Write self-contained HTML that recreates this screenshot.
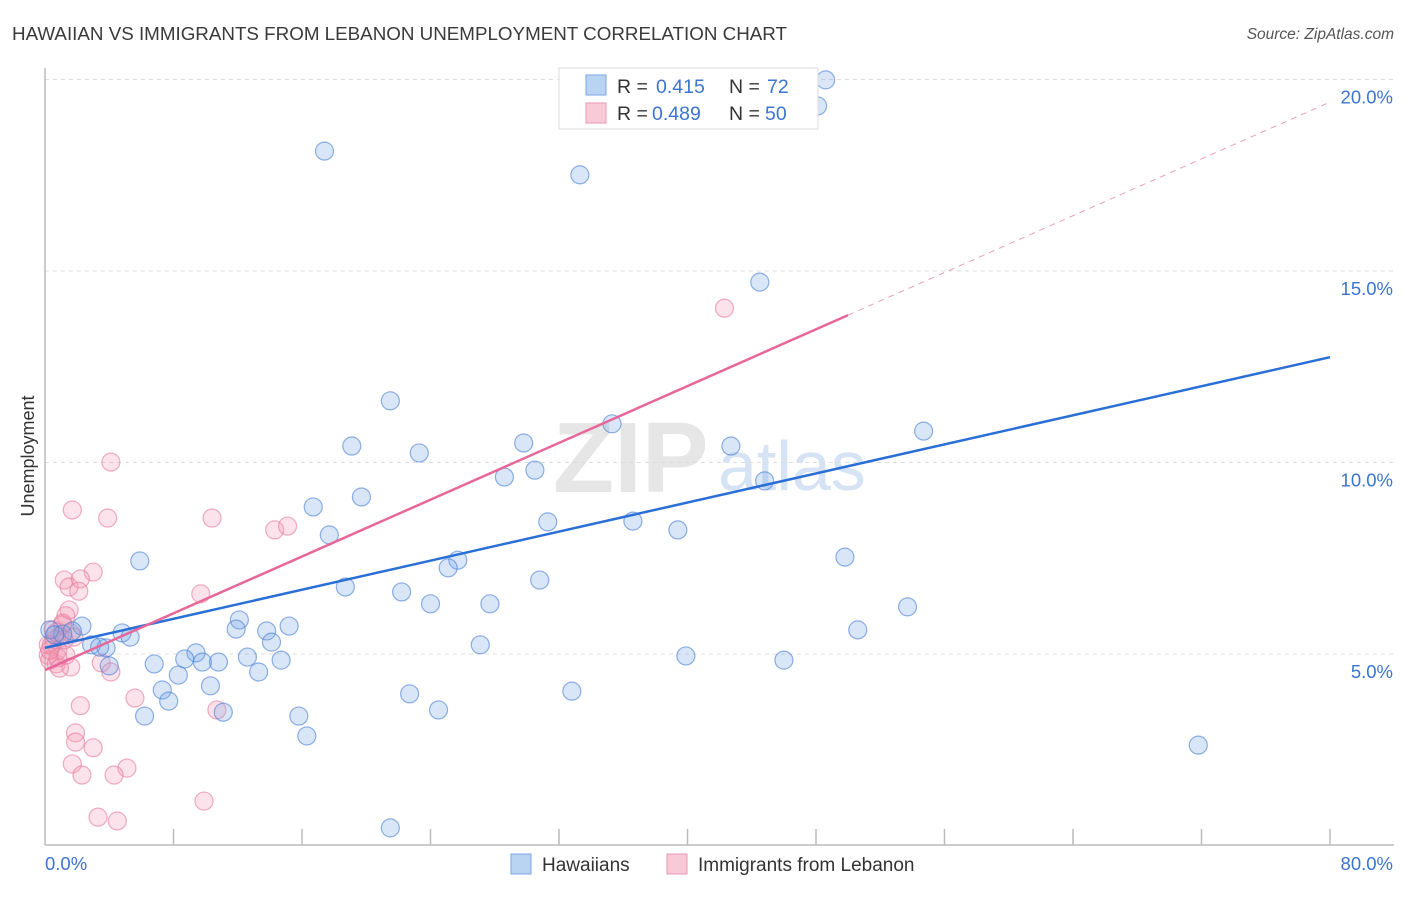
<!DOCTYPE html>
<html><head><meta charset="utf-8"><style>
body{margin:0;background:#fff;font-family:"Liberation Sans",sans-serif}
svg text{font-family:"Liberation Sans",sans-serif}
</style></head><body>
<svg id="chart" width="1406" height="892" xmlns="http://www.w3.org/2000/svg">
<text x="12" y="40" font-size="18.8" fill="#3a3a3a">HAWAIIAN VS IMMIGRANTS FROM LEBANON UNEMPLOYMENT CORRELATION CHART</text>
<text x="1394" y="39" font-size="15.5" fill="#555" font-style="italic" text-anchor="end">Source: ZipAtlas.com</text>
<g>
<text x="553" y="492" font-size="100" fill="#e6e6e6" font-family="Liberation Serif,serif" font-weight="bold">ZIP</text>
<text x="718" y="490" font-size="70" fill="#d5e3f5">atlas</text>
</g>
<g id="grid"></g>
<g id="axes"></g>
<g id="marks"></g>
<g>
<rect x="559" y="68" width="259" height="61" fill="#fff" stroke="#ddd"/>
<rect x="586" y="75" width="20" height="20" fill="#b9d3f3" stroke="#7aa5e0"/>
<text x="617" y="93" font-size="19.5" fill="#333">R = </text><text x="656" y="93" font-size="19.5" fill="#3b74d1">0.415</text>
<text x="729" y="93" font-size="19.5" fill="#333">N = </text><text x="767" y="93" font-size="19.5" fill="#3b74d1">72</text>
<rect x="586" y="103" width="20" height="20" fill="#f8c9d7" stroke="#ea9ab3"/>
<text x="617" y="120" font-size="19.5" fill="#333">R = </text><text x="652" y="120" font-size="19.5" fill="#3b74d1">0.489</text>
<text x="729" y="120" font-size="19.5" fill="#333">N = </text><text x="765" y="120" font-size="19.5" fill="#3b74d1">50</text>
</g>
<g>
<rect x="511" y="854" width="20" height="20" fill="#b9d3f3" stroke="#7aa5e0"/>
<text x="542" y="871" font-size="19" fill="#333">Hawaiians</text>
<rect x="667" y="854" width="20" height="20" fill="#f8c9d7" stroke="#ea9ab3"/>
<text x="698" y="871" font-size="19" fill="#333">Immigrants from Lebanon</text>
</g>
</svg>
<script>
const blueX=[48.6,48.1,17.4,33.3,44.5,21.5,35.3,19.1,42.7,23.3,29.8,54.7,28.6,30.5,44.8,19.7,16.7,31.3,36.6,39.4,17.7,5.9,49.8,25.7,25.1,30.8,18.7,22.2,24.0,27.7,53.7,12.1,11.9,15.2,13.8,14.1,27.1,50.6,2.3,4.8,5.3,1.7,1.1,0.3,2.9,3.8,4.0,9.4,8.7,6.8,9.8,10.8,12.6,14.7,8.3,13.3,39.9,46.0,7.3,7.7,10.3,6.2,11.1,15.8,16.3,22.7,24.5,32.8,71.8,21.5,0.6,3.4];
const blueY=[19.99,19.31,18.13,17.51,14.71,11.61,11.01,10.43,10.43,10.25,10.51,10.82,9.62,9.80,9.52,9.10,8.84,8.45,8.47,8.24,8.11,7.43,7.53,7.45,7.25,6.93,6.75,6.62,6.31,6.31,6.23,5.89,5.65,5.73,5.60,5.31,5.24,5.63,5.73,5.55,5.44,5.60,5.52,5.63,5.24,5.16,4.69,5.03,4.87,4.74,4.79,4.79,4.92,4.84,4.45,4.53,4.95,4.84,4.06,3.77,4.17,3.38,3.48,3.38,2.86,3.96,3.54,4.03,2.62,0.46,5.50,5.18];
const pinkX=[42.3,4.1,1.7,3.9,10.4,14.3,15.1,3.0,1.2,1.5,2.2,2.1,9.7,1.5,1.3,1.1,1.6,0.9,0.6,0.4,0.8,0.2,0.3,0.7,1.6,0.9,3.5,4.1,5.6,2.2,10.7,1.9,1.9,3.0,1.7,5.1,2.3,4.3,9.9,3.3,4.5,0.2,0.5,1.1,1.3,1.8,0.8,0.3,1.2,0.7];
const pinkY=[14.03,10.01,8.76,8.55,8.55,8.24,8.34,7.14,6.93,6.75,6.96,6.64,6.57,6.15,6.00,5.81,5.55,5.47,5.37,5.24,5.10,4.97,4.84,4.74,4.66,4.63,4.77,4.53,3.85,3.65,3.54,2.94,2.70,2.55,2.13,2.02,1.84,1.84,1.16,0.74,0.64,5.24,5.63,5.76,4.97,5.44,4.90,5.10,5.37,5.57];
const blueTrend=[5.16,12.75];
const pinkTrend=[4.58,19.41];
const pinkSolidEnd=50;
const yTicks=[5,10,15,20];
const yTickLabels=["5.0%","10.0%","15.0%","20.0%"];
const xTicks=[0,8,16,24,32,40,48,56,64,72,80];

const NS="http://www.w3.org/2000/svg";
const X0=45,X1=1330,Y0=845.5,PY=38.3;
function sx(v){return X0+v*(X1-X0)/80;}
function sy(v){return Y0-v*PY;}
function mk(tag,attrs,parent){const e=document.createElementNS(NS,tag);for(const k in attrs)e.setAttribute(k,attrs[k]);parent.appendChild(e);return e;}
const grid=document.getElementById('grid'),axes=document.getElementById('axes'),marks=document.getElementById('marks');
yTicks.forEach((t,i)=>{
 const l=mk('line',{x1:X0,x2:1394,y1:sy(t),y2:sy(t),stroke:'#ddd','stroke-dasharray':'4,4'},grid);
 
 
 const tx=mk('text',{x:1393,y:sy(t)+24,'font-size':18.5,fill:'#3b74d1','text-anchor':'end'},axes);
 tx.textContent=yTickLabels[i];
 
 
});
const ax=mk('line',{x1:X0,x2:X0,y1:68,y2:845,stroke:'#bbb','stroke-width':1.5},axes);


const bx=mk('line',{x1:X0,x2:1394,y1:845,y2:845,stroke:'#bbb','stroke-width':1.5},axes);


xTicks.forEach(t=>{if(t===0)return;
 const l=mk('line',{x1:sx(t),x2:sx(t),y1:829,y2:845,stroke:'#bbb','stroke-width':1.5},axes);
 
 });
const xl=mk('text',{x:45,y:870,'font-size':18.5,fill:'#3b74d1'},axes);xl.textContent='0.0%';


const xr=mk('text',{x:1393,y:870,'font-size':18.5,fill:'#3b74d1','text-anchor':'end'},axes);xr.textContent='80.0%';


const yt=mk('text',{x:34,y:456,'font-size':18,fill:'#333','text-anchor':'middle',transform:'rotate(-90 34 456)'},axes);yt.textContent='Unemployment';



pinkX.forEach((x,i)=>{
 const c=mk('circle',{cx:sx(x),cy:sy(pinkY[i]),r:9,fill:'rgba(244,150,178,0.28)',stroke:'rgba(230,120,155,0.6)','stroke-width':1.2},marks);
 
 
});
blueX.forEach((x,i)=>{
 const c=mk('circle',{cx:sx(x),cy:sy(blueY[i]),r:9,fill:'rgba(120,165,230,0.28)',stroke:'rgba(70,125,210,0.6)','stroke-width':1.2},marks);
 
 
});
function tv(tr,x){return tr[0]+(tr[1]-tr[0])*x/80;}
const bl=mk('line',{x1:sx(0),y1:sy(tv(blueTrend,0)),x2:sx(80),y2:sy(tv(blueTrend,80)),stroke:'#2a6fd6','stroke-width':2.5},marks);


const pl=mk('line',{x1:sx(0),y1:sy(tv(pinkTrend,0)),x2:sx(pinkSolidEnd),y2:sy(tv(pinkTrend,pinkSolidEnd)),stroke:'#e8679a','stroke-width':2.5},marks);


const pd=mk('line',{x1:sx(pinkSolidEnd),y1:sy(tv(pinkTrend,pinkSolidEnd)),x2:sx(80),y2:sy(tv(pinkTrend,80)),stroke:'#eca0bb','stroke-width':1,'stroke-dasharray':'6,5'},marks);


</script>
</body></html>
